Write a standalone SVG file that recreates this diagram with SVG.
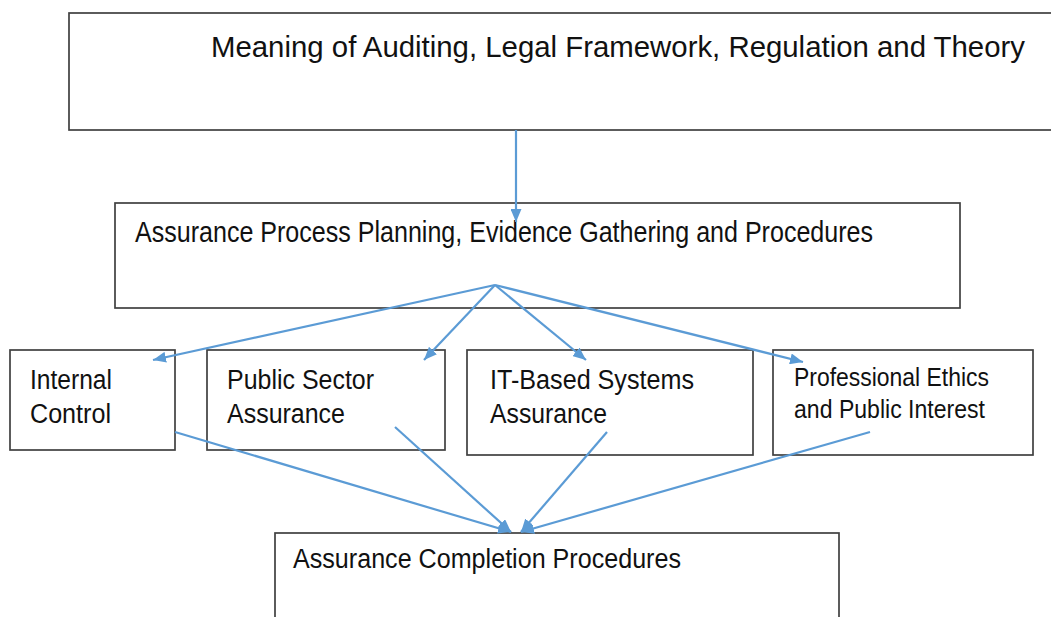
<svg xmlns="http://www.w3.org/2000/svg" width="1051" height="617" viewBox="0 0 1051 617">
<style>
.box{fill:#fff;stroke:#404040;stroke-width:1.7}
.t{font-family:"Liberation Sans",Arial,sans-serif;fill:#111}
.c{fill:none;stroke:#5b9bd5;stroke-width:2.2}
</style>
<defs>
<marker id="ah" viewBox="0 0 13 11" refX="13" refY="5.5" markerWidth="13" markerHeight="11" markerUnits="userSpaceOnUse" orient="auto">
<path d="M0,0 L13,5.5 L0,11 Z" fill="#5b9bd5"/>
</marker>
</defs>
<rect width="1051" height="617" fill="#fff"/>
<g id="n1">
<rect class="box" x="69" y="13" width="1000" height="117"/>
<text class="t" x="211" y="57" font-size="29" textLength="814" lengthAdjust="spacingAndGlyphs">Meaning of Auditing, Legal Framework, Regulation and Theory</text>
</g>
<g id="n2">
<rect class="box" x="115" y="203" width="845" height="105"/>
<text class="t" x="135" y="242" font-size="29" textLength="738" lengthAdjust="spacingAndGlyphs">Assurance Process Planning, Evidence Gathering and Procedures</text>
</g>
<g id="n3">
<rect class="box" x="10" y="350" width="165" height="100"/>
<text class="t" x="30" y="389" font-size="27" textLength="82" lengthAdjust="spacingAndGlyphs">Internal</text>
<text class="t" x="30" y="423" font-size="27" textLength="81" lengthAdjust="spacingAndGlyphs">Control</text>
</g>
<g id="n4">
<rect class="box" x="207" y="350" width="238" height="100"/>
<text class="t" x="227" y="389" font-size="27" textLength="147" lengthAdjust="spacingAndGlyphs">Public Sector</text>
<text class="t" x="227" y="423" font-size="27" textLength="118" lengthAdjust="spacingAndGlyphs">Assurance</text>
</g>
<g id="n5">
<rect class="box" x="467" y="350" width="286" height="105"/>
<text class="t" x="490" y="389" font-size="27" textLength="204" lengthAdjust="spacingAndGlyphs">IT-Based Systems</text>
<text class="t" x="490" y="423" font-size="27" textLength="117" lengthAdjust="spacingAndGlyphs">Assurance</text>
</g>
<g id="n6">
<rect class="box" x="773" y="350" width="260" height="105"/>
<text class="t" x="794" y="386" font-size="25" textLength="195" lengthAdjust="spacingAndGlyphs">Professional Ethics</text>
<text class="t" x="794" y="418" font-size="25" textLength="191" lengthAdjust="spacingAndGlyphs">and Public Interest</text>
</g>
<g id="n7">
<rect class="box" x="275" y="533" width="564" height="100"/>
<text class="t" x="293" y="568" font-size="27" textLength="388" lengthAdjust="spacingAndGlyphs">Assurance Completion Procedures</text>
</g>
<g id="connectors">
<path class="c" d="M516,130 L516,222" marker-end="url(#ah)"/>
<path class="c" d="M495,285 L153,360" marker-end="url(#ah)"/>
<path class="c" d="M495,285 L424,360" marker-end="url(#ah)"/>
<path class="c" d="M495,285 L586,360" marker-end="url(#ah)"/>
<path class="c" d="M495,285 L803,362" marker-end="url(#ah)"/>
<path class="c" d="M175,432 L511,532" marker-end="url(#ah)"/>
<path class="c" d="M395,427 L511,532" marker-end="url(#ah)"/>
<path class="c" d="M607,432 L521,532" marker-end="url(#ah)"/>
<path class="c" d="M870,432 L521,532" marker-end="url(#ah)"/>
</g>
</svg>
